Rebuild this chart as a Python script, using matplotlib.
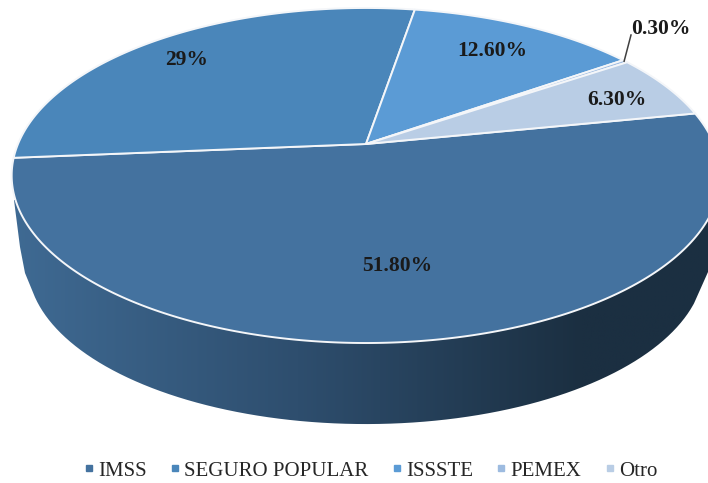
import numpy as np
import matplotlib
matplotlib.use("Agg")
import matplotlib.pyplot as plt
from matplotlib.patches import Polygon, PathPatch
from matplotlib.path import Path
from matplotlib.lines import Line2D

categories = ["IMSS", "SEGURO POPULAR", "ISSSTE", "PEMEX", "Otro"]
values = [51.8, 29.0, 12.6, 0.3, 6.3]
value_labels = ["51.80%", "29%", "12.60%", "0.30%", "6.30%"]
colors = ["#44729F", "#4A86BA", "#5B9BD5", "#9DBBE0", "#B9CDE5"]

plt.rcParams["font.family"] = ["Liberation Serif", "DejaVu Serif"]
W, H = 708, 483
fig = plt.figure(figsize=(W / 100, H / 100), dpi=100)
ax = fig.add_axes([0, 0, 1, 1])
ax.set_xlim(0, W)
ax.set_ylim(H, 0)
ax.axis("off")

CX, CY, RX, RY, K = 366, 144, 348, 161.6, 0.188
START = 11.3


def rim(theta_deg, s=1.0, dy=0.0):
    t = np.radians(theta_deg)
    u, v = np.cos(t), np.sin(t)
    d = 1 + K * v
    return np.column_stack([CX + s * RX * u / d, CY + dy - s * RY * v / d])


# side wall with horizontal gradient, clipped to the outline
a = np.linspace(165, 375, 400)
bot_arc = rim(a, s=0.955, dy=90)
keep = ((bot_arc[:, 0] < CX) & (bot_arc[:, 1] >= 293)) | ((bot_arc[:, 0] >= CX) & (bot_arc[:, 1] >= 303))
bot_arc = bot_arc[keep]
outline = np.vstack([[[14, 200], [20, 247], [25, 273]], bot_arc, [[708, 272], [722, 230], [724, 200]]])
wall = PathPatch(Path(np.vstack([outline, outline[:1]])), fc="none", ec="none")
ax.add_patch(wall)
stops_x = np.array([0.0, 0.40, 0.80, 1.0])
grad = np.linspace(0, 1, 512)
c0, c1, c2, c3 = [np.array(matplotlib.colors.to_rgb(c)) for c in
                  ("#3F6A93", "#2E4E6E", "#1B2F41", "#1B2F41")]
rgb = np.stack([np.interp(grad, stops_x, [c0[i], c1[i], c2[i], c3[i]]) for i in range(3)], axis=-1)
im = ax.imshow(rgb[None, :, :], extent=(14, 724, 440, 190), aspect="auto", zorder=1)
im.set_clip_path(wall)
ax.set_xlim(0, W)
ax.set_ylim(H, 0)

# top face wedges, clockwise from START
edges = START - np.cumsum([0] + values) * 3.6
for i, col in enumerate(colors):
    th = np.linspace(edges[i], edges[i + 1], max(int(abs(edges[i + 1] - edges[i])) * 2, 3))
    pts = np.vstack([[[CX, CY]], rim(th)])
    ax.add_patch(Polygon(pts, closed=True, fc=col, ec="#F4F6F9", lw=1.4, zorder=2, joinstyle="round"))

# data labels
label_xy = [(397, 266), (187, 60), (492, 51), (661, 29), (617, 100)]
for txt, (x, y) in zip(value_labels, label_xy):
    ax.text(x, y, txt, ha="center", va="center", fontsize=15.5, fontweight="bold",
            color="#1a1a1a", zorder=4)

# leader for the small slice
mid = (edges[3] + edges[4]) / 2
p = rim(mid)[0]
ax.plot([p[0] - 1, 631], [p[1], 35], color="#404040", lw=1.1, zorder=3)

handles = [Line2D([], [], ls="none", marker="s", ms=4.6, mfc=c, mec=c) for c in colors]
ax.legend(handles, categories, loc="center", bbox_to_anchor=(370.5 / W, 1 - 471 / H), ncol=5,
          frameon=False, fontsize=15, handlelength=0.5, handletextpad=0.2,
          columnspacing=1.1, borderpad=0, borderaxespad=0, labelcolor="#262626")

fig.savefig("out.png", dpi=100)
